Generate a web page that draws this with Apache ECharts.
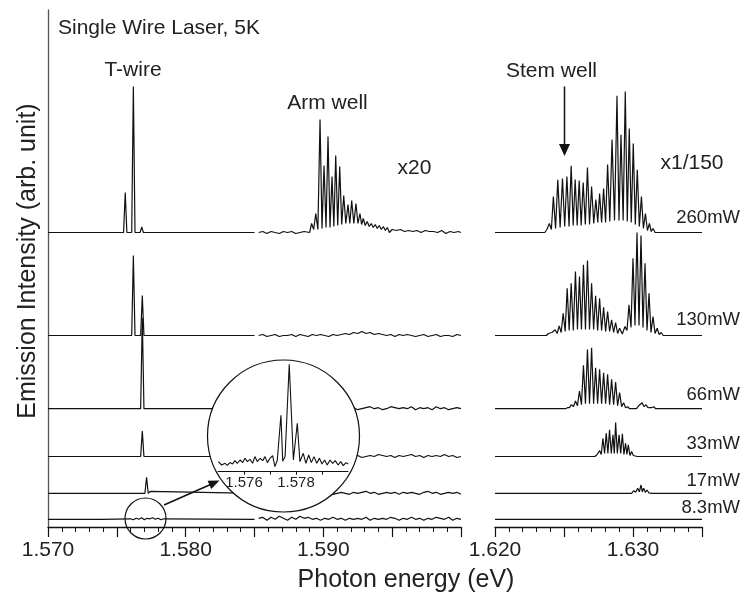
<!DOCTYPE html>
<html><head><meta charset="utf-8">
<script src="https://cdn.jsdelivr.net/npm/echarts@6/dist/echarts.min.js"></script>
<style>html,body{margin:0;padding:0;background:#fff}#c{width:745px;height:597px}</style>
</head><body><div id="c"></div>
<script>
// ================= DATA =================
const powers  = ['260mW','130mW','66mW','33mW','17mW','8.3mW'];
// vertical stacking offsets of the spectra (arb. unit)
const offsets = [294.5, 191.5, 118.3, 70.5, 33.7, 7.7];

// ---- T-wire region (1.570 - 1.585 eV): isolated lines [eV, height]
const twire260 = [[1.57561,40],[1.57620,146],[1.57681,5.6],[1.57746,1.5]];
const twire130 = [[1.57620,80],[1.57685,40]];
const twire66  = [[1.57685,91]];
const twire33  = [[1.57685,25.5]];
const twire17  = [[1.57716,16],[1.57745,2]];
const twire83  = [[1.57058,1.2],[1.57268,1],[1.57378,1.2]];
const twire83NoiseStart = 1.5760, twire83NoiseStep = 0.0002;
const twire83Noise = [0.5,-0.5,1,0,1.5,-0.5,1,0.5,1.5,0,1,-0.5,0.5];

// ---- Arm well region (x20), 1.5853 - 1.600 eV
const armStart = 1.5853, armStep = 0.0003;
const arm260Pre  = [0,1,-1,1,0,-1,1,0,1,-1,0,1];
const arm260Pos  = [1.58915,1.58945,1.58976,1.59005,1.59034,1.59063,1.59090,1.59119,1.59148,1.59179,1.59206,1.59237,1.59266,1.59290,1.59319,1.59348,1.59377,1.59406,1.59436,1.59465];
const arm260H    = [9,19,113,67,96,56,77,66,37,28,32,29,19,14,11,9,8,7,6,5];
const arm260Tr   = [3,3,4,5,5,6,7,8,9,9,9,9,8,7,6,5,4,3,2];
const arm260PostStart = 1.5950;
const arm260Post = [3,2,3,1,2,1,2,0,2,1,1,0,2,-1,1,0,1];
const arm130 = [0,1,-1,0,1,-1,0,0,1,-1,1,0,-1,1,0,1,0,-1,1,0,1,2,1,3,2,4,2,3,1,2,1,0,1,-1,1,0,1,0,-1,0,1,-1,0,1,-1,0,0,-1,1,0];
const arm66  = [0,1,0,-1,1,0,1,-1,0,1,0,-1,1,0,1,0,-1,0,1,0,-1,1,0,1,-1,0,1,2,0,1,-1,0,2,1,0,1,0,2,-1,1,0,1,-1,2,0,1,-1,0,1,0];
const arm33  = [1,0,-1,1,0,1,-1,0,1,0,-1,1,0,1,0,-1,1,0,0,1,-1,0,1,0,1,-1,0,1,0,2,1,0,1,-1,1,0,1,2,0,1,-1,1,0,1,0,2,0,1,-1,0];
const arm17  = [0,-1,1,0,1,-1,0,1,0,-1,1,0,1,-1,0,1,0,1,-1,0,1,0,-1,1,0,1,2,0,1,-1,0,1,0,1,-1,1,0,1,0,-1,1,2,0,1,-1,0,1,0,1,-1];
const arm83  = [1,2,-1,2,0,3,1,-1,2,0,3,1,2,0,1,-1,1,0,2,0,1,-1,1,0,1,0,2,-1,1,0,1,0,2,1,-1,1,0,2,0,1,-1,1,0,2,1,0,2,-1,1,0];

// ---- Stem well region (x1/150), 1.620 - 1.635 eV : mode positions, heights, troughs
const stem260Pos = [1.62376,1.62394,1.62423,1.62455,1.62489,1.62521,1.62552,1.62581,1.62610,1.62639,1.62670,1.62700,1.62731,1.62758,1.62787,1.62816,1.62848,1.62884,1.62913,1.62944,1.62973,1.63002,1.63031,1.63061,1.63090,1.63119,1.63145];
const stem260H   = [3,9,36,52.7,54,56,66.7,53,52,50,65,46,33,39,44,68,93,136.7,97.7,141,104,89,62.7,36,19,9,4];
const stem260Tr  = [1,3,4,5,6,6,7,7,7,8,8,9,10,10,10,11,12,12,12,11,10,8,6,4,2,1];
const stem130Pos = [1.62387,1.62412,1.62436,1.62465,1.62494,1.62523,1.62552,1.62583,1.62612,1.62641,1.62670,1.62700,1.62729,1.62758,1.62787,1.62816,1.62845,1.62874,1.62903,1.62942,1.62971,1.63000,1.63029,1.63058,1.63087,1.63116,1.63145,1.63175,1.63204];
const stem130H   = [2,3,5.7,9.7,22.3,47.3,52.3,64,59,70.7,75,52.3,39.7,37.3,28.3,24,15.7,13,7.3,9,30.7,77.3,103,100,72.3,42.3,19,7.3,3];
const stem130Tr  = [1,2,2,3,4,5,5,6,6,6,6,6,5,5,4,4,3,2,1.5,5,8,10,10,8,5,3,2,1];
const stem66Pos  = [1.62525,1.62554,1.62583,1.62612,1.62641,1.62670,1.62700,1.62729,1.62758,1.62787,1.62816,1.62845,1.62874,1.62903,1.62932,1.62961];
const stem66H    = [1,4,7.7,17.7,43.3,59.3,61,41,39.3,36,34.3,29.3,26.7,16,6,2];
const stem66Tr   = [1,2,3,4,5,5,5,5,5,5,4,4,3,2,1];
const stem66bPos = [1.63041,1.63066,1.63095,1.63121,1.63150];
const stem66bH   = [3,6,4,3,2];
const stem66bTr  = [1,2,1,1];
const stem33Pos  = [1.62739,1.62758,1.62782,1.62806,1.62830,1.62855,1.62874,1.62899,1.62923,1.62946,1.62966,1.62990,1.63015];
const stem33H    = [1.7,6,18.3,23.3,26.7,21.7,34,21.7,22.7,13.3,11.7,5,2.7];
const stem33Tr   = [1,2,3,3,3,3,3,3,2,2,1,1];
const stem17Pos  = [1.63005,1.63034,1.63058,1.63077,1.63102,1.63126];
const stem17H    = [2.7,5,8.3,5,3.3,1.7];
const stem17Tr   = [1,1.5,1.5,1,0.5];
const stem83Specks = [[1.62218,1],[1.62385,1],[1.62436,1],[1.62532,1],[1.63199,1],[1.63259,1]];

// ---- Inset (magnified 8.3mW T-wire region) [eV, height]
const insetBase = 8.4;
const insetData = [[1.57501,1.7],[1.57514,-1.7],[1.57527,0],[1.57536,-2],[1.57546,0.7],[1.57556,-0.7],[1.57565,2.7],[1.57574,0],[1.57585,3.3],[1.57595,0.7],[1.57604,5],[1.57613,1.7],[1.57623,4],[1.57633,0],[1.57642,6.7],[1.57651,1.7],[1.57662,5],[1.57672,2.7],[1.57681,6.7],[1.57690,0.7],[1.57700,5],[1.57710,7.7],[1.57719,-3.3],[1.57728,3],[1.57742,48],[1.57749,2],[1.57758,6.7],[1.57774,99],[1.57790,3.3],[1.57805,40],[1.57815,1.7],[1.57828,10],[1.57838,0],[1.57849,8.3],[1.57859,0.7],[1.57869,6.7],[1.57880,0],[1.57890,5],[1.57900,-0.7],[1.57910,3.3],[1.57920,-1.7],[1.57931,3.3],[1.57941,0],[1.57951,2.7],[1.57962,-1.7],[1.57972,1.7],[1.57982,-2.3],[1.57992,0.7],[1.58001,-0.7]];
const insetTicks  = [1.576,1.577,1.578,1.579];
const insetLabels = [1.576,1.578];

// ================= BUILD =================
const LW = 0.00012, HALF = 0.00015;
function seq(start, step, vals){ return vals.map((v,i)=>[start+i*step, v]); }
function spikes(list){ const p=[]; list.forEach(([x,h])=>{p.push([x-LW,0],[x,h],[x+LW,0]);}); return p; }
function comb(pos,h,tr){
  const p=[[pos[0]-HALF,0]];
  for(let i=0;i<pos.length;i++){ p.push([pos[i],h[i]]); if(i<pos.length-1) p.push([(pos[i]+pos[i+1])/2,tr[i]]); }
  p.push([pos[pos.length-1]+HALF,0]); return p;
}
const byX=(a,b)=>a[0]-b[0];
function withEnds(pts, a, b){ return [[a,0]].concat(pts.sort(byX), [[b,0]]); }

const tw = [
  withEnds(spikes(twire260),1.570,1.585),
  withEnds(spikes(twire130),1.570,1.585),
  withEnds(spikes(twire66),1.570,1.585),
  withEnds(spikes(twire33),1.570,1.585),
  withEnds(spikes(twire17),1.570,1.585),
  withEnds(spikes(twire83).concat(seq(twire83NoiseStart,twire83NoiseStep,twire83Noise)),1.570,1.585)
];
const arm = [
  seq(armStart,armStep,arm260Pre).concat(comb(arm260Pos,arm260H,arm260Tr), seq(arm260PostStart,armStep,arm260Post), [[1.600,0]]),
  seq(armStart,armStep,arm130), seq(armStart,armStep,arm66), seq(armStart,armStep,arm33),
  seq(armStart,armStep,arm17), seq(armStart,armStep,arm83)
];
const stem = [
  withEnds(comb(stem260Pos,stem260H,stem260Tr),1.620,1.635),
  withEnds(comb(stem130Pos,stem130H,stem130Tr),1.620,1.635),
  withEnds(comb(stem66Pos,stem66H,stem66Tr).concat(comb(stem66bPos,stem66bH,stem66bTr)),1.620,1.635),
  withEnds(comb(stem33Pos,stem33H,stem33Tr),1.620,1.635),
  withEnds(comb(stem17Pos,stem17H,stem17Tr),1.620,1.635),
  withEnds(spikes(stem83Specks),1.620,1.635)
];

const FONT = "'Liberation Sans', Arial, Helvetica, sans-serif";
const INK = '#111', TXT = '#222';
const lineSty = {color:INK, width:1.2};
const series = [];
powers.forEach((p,i)=>{
  const off = offsets[i];
  const sh = d => d.map(([x,y])=>[x, y+off]);
  [[tw[i],0],[arm[i],0],[stem[i],1]].forEach(([d,ax])=>{
    series.push({type:'line', name:p, xAxisIndex:ax, yAxisIndex:ax, data:sh(d), showSymbol:false, symbol:'none',
      lineStyle:lineSty, silent:true, animation:false, z:2});
  });
});
series.push({type:'line', name:'inset', xAxisIndex:2, yAxisIndex:2, data:insetData.map(([x,y])=>[x,y+insetBase]),
  showSymbol:false, symbol:'none', lineStyle:{color:INK,width:1.1}, silent:true, animation:false, z:60, clip:false});

function axisX(gridIndex,min,max,labels){
  return {type:'value', gridIndex, min, max, interval:0.005,
    axisLine:{show:true, onZero:false, lineStyle:{color:INK,width:1.3}},
    axisTick:{show:true, length:10, lineStyle:{color:INK,width:1.2}},
    minorTick:{show:true, splitNumber:5, length:5, lineStyle:{color:INK,width:1}},
    axisLabel:{customValues:labels, formatter:v=>v.toFixed(3), fontFamily:FONT, fontSize:21, color:TXT, margin:13},
    splitLine:{show:false}, minorSplitLine:{show:false}};
}
const hidY = (g,max)=>({type:'value', gridIndex:g, min:0, max, show:false, splitLine:{show:false}});

// geometry of annotations
const bigC = {cx:283.5, cy:436, r:76};
const smallC = {cx:145.5, cy:518.5, r:20.5};
const arrowFrom = [164,505], arrowTo = [219.5,480.5];
function headPts(from,to,len,hw){
  const dx=to[0]-from[0], dy=to[1]-from[1], L=Math.hypot(dx,dy), ux=dx/L, uy=dy/L;
  const bx=to[0]-ux*len, by=to[1]-uy*len;
  return [[to[0],to[1]],[bx-uy*hw,by+ux*hw],[bx+uy*hw,by-ux*hw]];
}
function txt(text,x,y,size,align){
  return {type:'text', x, y, z:60, silent:true,
    style:{text, fontFamily:FONT, fontSize:size, fill:TXT, textAlign:align||'center', align:align||'center', textVerticalAlign:'middle', verticalAlign:'middle'}};
}
const labelY = [218, 319.7, 394.5, 444, 481, 507.5];
const graphics = [
  {type:'circle', z:50, silent:true, shape:bigC, style:{fill:'#fff', stroke:INK, lineWidth:1.2}},
  {type:'circle', z:50, silent:true, shape:smallC, style:{fill:null, stroke:INK, lineWidth:1.2}},
  {type:'line', z:60, silent:true, shape:{x1:arrowFrom[0],y1:arrowFrom[1],x2:arrowTo[0]-5,y2:arrowTo[1]+2.2}, style:{stroke:INK, lineWidth:1.5}},
  {type:'polygon', z:60, silent:true, shape:{points:headPts(arrowFrom,arrowTo,11,4.5)}, style:{fill:INK}},
  {type:'line', z:60, silent:true, shape:{x1:564.5,y1:86.5,x2:564.5,y2:146}, style:{stroke:INK, lineWidth:1.5}},
  {type:'polygon', z:60, silent:true, shape:{points:headPts([564.5,86.5],[564.5,156],12,5.5)}, style:{fill:INK}},
  txt('Single Wire Laser, 5K',58,28,21,'left'),
  txt('T-wire',133,70,21),
  txt('Arm well',327.5,103.5,21),
  txt('x20',414.5,168,21),
  txt('Stem well',551.5,71,21),
  txt('x1/150',692,163,21),
  txt('Photon energy (eV)',406,580,25),
  Object.assign(txt('Emission Intensity (arb. unit)',28.5,261,25),{rotation:Math.PI/2})
];
powers.forEach((p,i)=>graphics.push(txt(p,740,labelY[i],18.5,'right')));

const option = {
  animation:false,
  backgroundColor:'#fff',
  grid:[
    {left:48, width:413, top:10, height:517},
    {left:495, width:207, top:10, height:517},
    {left:218, width:130, top:360, height:111.7, z:60}
  ],
  xAxis:[
    axisX(0,1.570,1.600,[1.57,1.58,1.59]),
    axisX(1,1.620,1.635,[1.62,1.63]),
    {type:'value', gridIndex:2, min:1.575, max:1.580, z:60,
      axisLine:{show:true, onZero:false, lineStyle:{color:INK,width:1}},
      axisTick:{show:true, customValues:insetTicks, length:3, lineStyle:{color:INK,width:1}},
      axisLabel:{customValues:insetLabels, formatter:v=>v.toFixed(3), fontFamily:FONT, fontSize:15, color:TXT, margin:4},
      splitLine:{show:false}}
  ],
  yAxis:[
    {type:'value', gridIndex:0, min:0, max:517, axisLine:{show:true, lineStyle:{color:'#555',width:1.3}},
      axisTick:{show:false}, axisLabel:{show:false}, splitLine:{show:false}},
    hidY(1,517), hidY(2,111.7)
  ],
  graphic:{elements:graphics},
  series
};
const chart = echarts.init(document.getElementById('c'));
chart.setOption(option);
</script></body></html>
